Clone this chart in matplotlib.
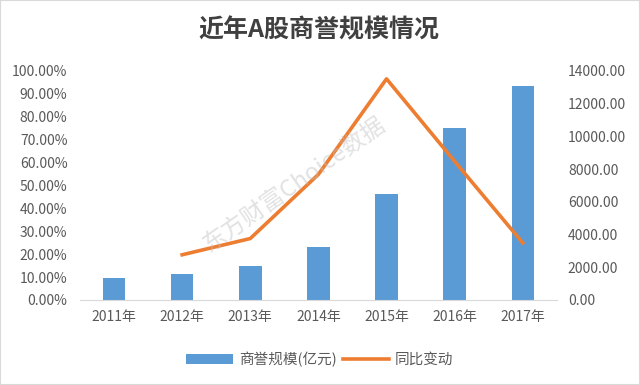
import matplotlib
matplotlib.use("Agg")
import matplotlib.pyplot as plt
from matplotlib.patches import Rectangle

plt.rcParams['font.family'] = ['Noto Sans CJK SC', 'DejaVu Sans']

years = ['2011年', '2012年', '2013年', '2014年', '2015年', '2016年', '2017年']
goodwill = [1330, 1570, 2060, 3260, 6460, 10530, 13080]
yoy_years = ['2012年', '2013年', '2014年', '2015年', '2016年', '2017年']
yoy = [0.197, 0.268, 0.548, 0.965, 0.605, 0.249]

bar_color = '#5B9BD5'
line_color = '#ED7D31'
tick_color = '#595959'

fig = plt.figure(figsize=(6.4, 3.85), dpi=100)
ax = fig.add_axes([0.125, 0.221, 0.745, 0.595])
ax2 = ax.twinx()

x = list(range(len(years)))
xl = [years.index(y) for y in yoy_years]

ax2.bar(x, goodwill, width=0.33, color=bar_color, zorder=2, label='商誉规模(亿元)')
ax.plot(xl, yoy, color=line_color, lw=2.6, zorder=3, label='同比变动')
ax.set_zorder(ax2.get_zorder() + 1)
ax.patch.set_visible(False)

ax.set_xlim(-0.5, 6.5)
ax.set_ylim(0, 1.0)
ax2.set_ylim(0, 14000)
ax.set_yticks([i / 10 for i in range(11)])
ax.set_yticklabels([f'{i*10:.2f}%' for i in range(11)])
ax2.set_yticks(range(0, 14001, 2000))
ax2.set_yticklabels([f'{v:.2f}' for v in range(0, 14001, 2000)])
ax.set_xticks(x)
ax.set_xticklabels(years)

for a in (ax, ax2):
    for s in a.spines.values():
        s.set_visible(False)
    a.tick_params(length=0, colors=tick_color, labelsize=10)
ax.spines['bottom'].set_visible(True)
ax.spines['bottom'].set_color('#D9D9D9')
ax.tick_params(axis='y', pad=9)
ax2.tick_params(axis='y', pad=8)
ax.tick_params(axis='x', pad=7)

fig.text(0.498, 0.92, '近年A股商誉规模情况', ha='center', va='center',
         fontsize=18, fontweight='bold', color='#404040')

fig.text(0.46, 0.52, '东方财富Choice数据', ha='center', va='center', rotation=35,
         fontsize=17, color='#BFBFBF', alpha=0.45, zorder=10)

h1, l1 = ax2.get_legend_handles_labels()
h2, l2 = ax.get_legend_handles_labels()
fig.legend(h1 + h2, l1 + l2, loc='center', bbox_to_anchor=(0.5, 0.067), ncol=2,
           frameon=False, fontsize=10.5, handlelength=3.2, handleheight=0.7,
           columnspacing=0.4, handletextpad=0.4, labelcolor=tick_color)

fig.add_artist(Rectangle((0, 0), 1, 1, transform=fig.transFigure, fill=False,
                         edgecolor='#D9D9D9', lw=1.5))

fig.savefig('out.png', dpi=100)
